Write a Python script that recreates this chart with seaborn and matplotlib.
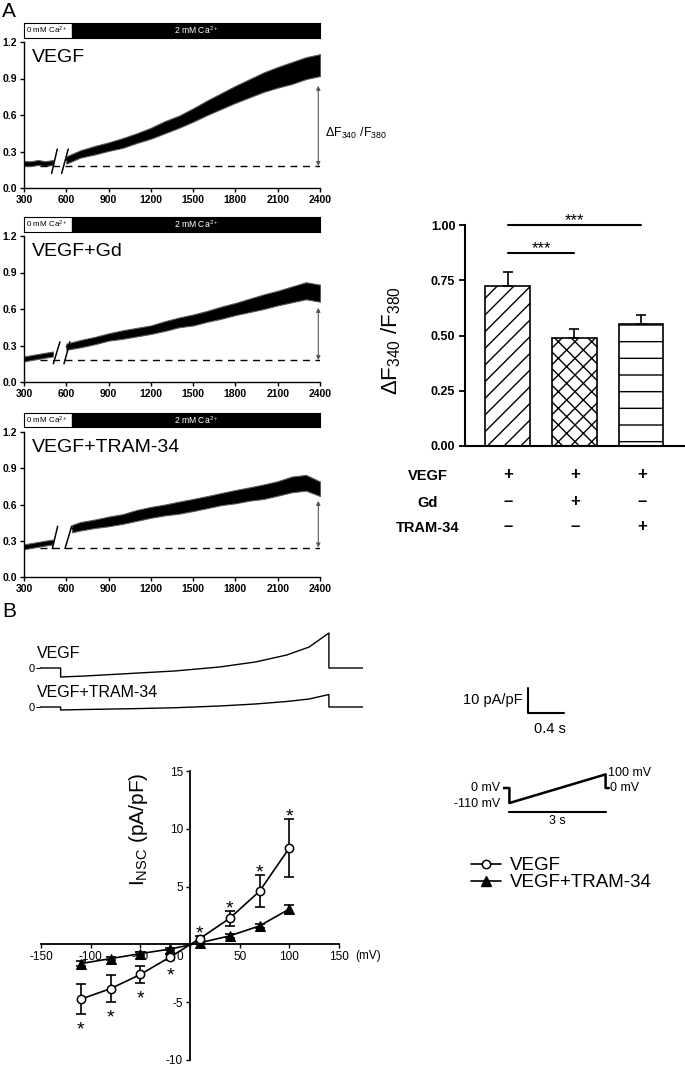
import numpy as np
import pandas as pd
import matplotlib
matplotlib.use("Agg")
import matplotlib.pyplot as plt
import seaborn as sns
from matplotlib.lines import Line2D
from matplotlib.transforms import ScaledTranslation

# ---------------------------------------------------------------- data
time_ticks = [300, 600, 900, 1200, 1500, 1800, 2100, 2400]
ratio_ticks = [0.0, 0.3, 0.6, 0.9, 1.2]
ca_switch_time = 640

pre_t = [300, 350, 400, 450, 505]
post_t = [600, 700, 800, 900, 1000, 1100, 1200, 1300, 1400, 1500,
          1600, 1700, 1800, 1900, 2000, 2100, 2200, 2300, 2400]
post_t_tram = [640, 700, 800, 900, 1000, 1100, 1200, 1300, 1400, 1500,
               1600, 1700, 1800, 1900, 2000, 2100, 2200, 2300, 2400]

vegf_pre = [0.20, 0.20, 0.21, 0.20, 0.21]
vegf_pre_hw = [0.02, 0.02, 0.02, 0.02, 0.02]
vegf_post = [0.23, 0.28, 0.31, 0.34, 0.37, 0.41, 0.45, 0.50, 0.545, 0.60,
             0.66, 0.715, 0.77, 0.82, 0.87, 0.91, 0.945, 0.985, 1.01]
vegf_post_hw = [0.03, 0.03, 0.035, 0.035, 0.04, 0.04, 0.045, 0.05, 0.05, 0.055,
                0.06, 0.065, 0.07, 0.075, 0.08, 0.085, 0.09, 0.09, 0.09]

gd_pre = [0.19, 0.20, 0.21, 0.22, 0.23]
gd_pre_hw = [0.02, 0.02, 0.02, 0.02, 0.02]
gd_post = [0.29, 0.315, 0.34, 0.37, 0.39, 0.41, 0.43, 0.46, 0.49, 0.51,
           0.54, 0.57, 0.60, 0.63, 0.66, 0.69, 0.72, 0.75, 0.73]
gd_post_hw = [0.025, 0.03, 0.03, 0.03, 0.035, 0.035, 0.035, 0.04, 0.04, 0.045,
              0.045, 0.05, 0.05, 0.055, 0.06, 0.06, 0.065, 0.07, 0.07]

tram_pre = [0.25, 0.26, 0.27, 0.28, 0.29]
tram_pre_hw = [0.02, 0.02, 0.02, 0.02, 0.02]
tram_post = [0.40, 0.42, 0.44, 0.46, 0.48, 0.51, 0.535, 0.555, 0.574, 0.596,
             0.62, 0.645, 0.665, 0.687, 0.706, 0.733, 0.766, 0.78, 0.73]
tram_post_hw = [0.03, 0.035, 0.035, 0.04, 0.04, 0.045, 0.045, 0.045, 0.05, 0.05,
                0.05, 0.05, 0.055, 0.055, 0.06, 0.06, 0.065, 0.065, 0.06]

baselines = [0.18, 0.18, 0.244]
delta_tops = [0.84, 0.61, 0.63]
break_x = [[(496, 536), (567, 614)], [(508, 555), (584, 626)], [(501, 539), (591, 638)]]
break_y = [(0.12, 0.32), (0.15, 0.33), (0.235, 0.42)]

# bar chart
conditions = ["VEGF", "VEGF+Gd", "VEGF+TRAM-34"]
bar_means = [0.724, 0.490, 0.550]
bar_sem = [0.065, 0.039, 0.043]
bar_hatches = ["//", "xx", "-"]
bar_ticks = [0.00, 0.25, 0.50, 0.75, 1.00]
row_labels = ["VEGF", "Gd", "TRAM-34"]
row_signs = [["+", "+", "+"], ["\u2013", "+", "\u2013"], ["\u2013", "\u2013", "+"]]

# current traces (B)
trace_time = [0.0, 0.23, 0.23, 0.5, 1.0, 1.5, 2.0, 2.4, 2.75, 3.0, 3.22, 3.22, 3.6]
vegf_current = [0.0, 0.0, -3.6, -3.2, -2.2, -1.2, 0.4, 2.4, 5.2, 8.4, 14.0, 0.0, 0.0]
tram_current = [0.0, 0.0, -1.2, -1.0, -0.7, -0.3, 0.4, 1.2, 2.2, 3.2, 5.0, 0.0, 0.0]

# voltage protocol
protocol_t = [-0.2, 0.0, 0.0, 3.0, 3.0, 3.1]
protocol_mv = [0, 0, -110, 100, 0, 0]

# I-V relation
volt = [-110, -80, -50, -20, 10, 40, 70, 100]
vegf_iv = [-4.74, -3.83, -2.6, -1.09, 0.51, 2.26, 4.6, 8.34]
vegf_iv_sem = [1.3, 1.15, 0.75, 0.3, 0.2, 0.65, 1.4, 2.47]
tram_iv = [-1.66, -1.23, -0.8, -0.4, 0.14, 0.74, 1.6, 3.06]
tram_iv_sem = [0.2, 0.15, 0.1, 0.1, 0.1, 0.15, 0.2, 0.35]
iv_xticks = [-150, -100, -50, 0, 50, 100, 150]
iv_yticks = [-10, -5, 5, 10, 15]

# ---------------------------------------------------------------- style
sns.set_theme(style="ticks", rc={
    "axes.edgecolor": "black", "xtick.color": "black", "ytick.color": "black",
    "text.color": "black", "axes.labelcolor": "black",
    "hatch.linewidth": 1.0, "hatch.color": "black",
})
plt.rcParams["font.family"] = ["Liberation Sans", "DejaVu Sans"]
plt.rcParams["mathtext.default"] = "regular"

W, H = 685, 1068
fig = plt.figure(figsize=(W / 100, H / 100), dpi=100)


def axes_px(l, t, r, b):
    return fig.add_axes([l / W, 1 - b / H, (r - l) / W, (b - t) / H])


def ftext(x, y, s, **kw):
    return fig.text(x / W, 1 - y / H, s, **kw)


# ---------------------------------------------------------------- panel A traces
panels = [
    ("VEGF", (42, 188), (23, 38), vegf_pre, vegf_pre_hw, post_t, vegf_post, vegf_post_hw),
    ("VEGF+Gd", (236, 382), (217, 232), gd_pre, gd_pre_hw, post_t, gd_post, gd_post_hw),
    ("VEGF+TRAM-34", (432, 577), (413, 427), tram_pre, tram_pre_hw, post_t_tram, tram_post, tram_post_hw),
]

for i, (lab, (t, b), (bt, bb), pre_y, pre_hw, pt, py, phw) in enumerate(panels):
    ax = axes_px(24, t, 320, b)
    for tt, yy, hw in ((pre_t, pre_y, pre_hw), (pt, py, phw)):
        yy = np.asarray(yy)
        hw = np.asarray(hw)
        ax.fill_between(tt, yy - hw, yy + hw, facecolor="black", edgecolor="0.35", lw=0.8)
        sns.lineplot(x=tt, y=yy, ax=ax, color="black", lw=1.0, estimator=None, sort=False)
    for bx in break_x[i]:
        ax.plot(bx, break_y[i], color="black", lw=1.1)
    ax.hlines(baselines[i], 410, 2400, colors="black", lw=1.0, linestyles=(0, (5, 4)))
    ax.annotate("", xy=(2388, delta_tops[i]), xytext=(2388, baselines[i]),
                arrowprops=dict(arrowstyle="<|-|>", color="0.35", lw=0.8,
                                mutation_scale=6, shrinkA=0, shrinkB=0))
    ax.set_xlim(300, 2400)
    ax.set_ylim(0, 1.2)
    ax.set_xticks(time_ticks)
    ax.set_yticks(ratio_ticks)
    ax.set_yticklabels([f"{v:.1f}" for v in ratio_ticks])
    ax.tick_params(direction="out", length=3, width=1, labelsize=7.5, pad=2)
    for tl in ax.get_xticklabels() + ax.get_yticklabels():
        tl.set_fontweight("bold")
    ax.set_xlabel("")
    ax.set_ylabel("")
    sns.despine(ax=ax)
    for s in ("left", "bottom"):
        ax.spines[s].set_linewidth(1.0)
    ax.text(0.027, 1 - 20 / (b - t), lab, transform=ax.transAxes, fontsize=14, va="baseline")

    # solution bar
    axc = axes_px(24, bt, 320, bb)
    axc.set_xlim(300, 2400)
    axc.set_ylim(0, 1)
    axc.axvspan(ca_switch_time, 2400, color="black")
    axc.set_xticks([])
    axc.set_yticks([])
    for s in axc.spines.values():
        s.set_linewidth(0.8)
    axc.text(315, 0.5, "0 mM Ca$^{2+}$", fontsize=5.8, va="center", ha="left")
    axc.text(1520, 0.5, "2 mM Ca$^{2+}$", fontsize=6.2, va="center", ha="center", color="white")

ftext(325, 133, r"$\Delta$F$_{340}$ /F$_{380}$", fontsize=9, va="center")

# ---------------------------------------------------------------- bar chart
axb = axes_px(465, 225, 685, 446)
bar_df = pd.DataFrame({"cond": conditions, "mean": bar_means})
sns.barplot(data=bar_df, x="cond", y="mean", ax=axb, color="white", edgecolor="black",
            linewidth=1.2, width=0.67, errorbar=None, saturation=1)
for patch, h in zip(axb.patches, bar_hatches):
    patch.set_hatch(h)
    patch.set_facecolor("white")
axb.errorbar(range(len(conditions)), bar_means, yerr=[np.zeros(len(bar_sem)), bar_sem],
             fmt="none", ecolor="black", elinewidth=1.2, capsize=3.5, capthick=1.2)
axb.set_xlim(-0.64, 2.66)
axb.set_ylim(0, 1.0)
axb.set_yticks(bar_ticks)
axb.set_yticklabels([f"{v:.2f}" for v in bar_ticks])
axb.set_xticks([])
axb.set_xlabel("")
axb.tick_params(axis="y", direction="out", length=4, width=1.3, labelsize=9, pad=3)
for tl in axb.get_yticklabels():
    tl.set_fontweight("bold")
sns.despine(ax=axb)
for s in ("left", "bottom"):
    axb.spines[s].set_linewidth(1.5)
axb.set_ylabel(r"$\Delta$F$_{340}$ /F$_{380}$", fontsize=16)
axb.yaxis.set_label_coords(-0.28, 0.475)
# significance
axb.plot([0, 2], [1.0, 1.0], color="black", lw=1.5, clip_on=False)
axb.plot([0, 1], [0.872, 0.872], color="black", lw=1.5, clip_on=False)
axb.text(1, 1.0, "***", ha="center", va="baseline", fontsize=12)
axb.text(0.5, 0.872, "***", ha="center", va="baseline", fontsize=12)
# table
row_y = [476, 503, 528]
for ry, rl, signs in zip(row_y, row_labels, row_signs):
    ftext(428, ry, rl, ha="center", va="center", fontsize=10.5, fontweight="bold")
    for k, sg in enumerate(signs):
        xpx = 508 + 67 * k
        ftext(xpx, ry - 1, sg, ha="center", va="center", fontsize=12, fontweight="bold")

# ---------------------------------------------------------------- panel B traces
axv = axes_px(40, 625, 363, 685)
sns.lineplot(x=trace_time, y=vegf_current, ax=axv, color="black", lw=1.0, estimator=None, sort=False)
axv.set_xlim(0, 3.6)
axv.set_ylim(-6.8, 17.2)

axt = axes_px(40, 688, 363, 720)
sns.lineplot(x=trace_time, y=tram_current, ax=axt, color="black", lw=1.0, estimator=None, sort=False)
axt.set_xlim(0, 3.6)
axt.set_ylim(-5.2, 7.6)

for a in (axv, axt):
    a.set_xticks([])
    a.set_yticks([0])
    a.set_yticklabels(["0"])
    a.tick_params(axis="y", length=3, width=0.8, labelsize=8, pad=1)
    a.set_xlabel("")
    a.set_ylabel("")
    for s in a.spines.values():
        s.set_visible(False)
    a.patch.set_alpha(0)

ftext(37, 658, "VEGF", fontsize=11.5, va="baseline")
ftext(37, 697, "VEGF+TRAM-34", fontsize=11.5, va="baseline")
ftext(2, 617, "B", fontsize=15, va="baseline")
ftext(2, 17, "A", fontsize=15, va="baseline")

# scale bar
axs = axes_px(528, 688, 564, 713)
axs.set_xlim(0, 0.4)
axs.set_ylim(0, 10)
axs.plot([0, 0, 0.4], [10, 0, 0], color="black", lw=1.5, clip_on=False)
axs.text(-0.055, 5.2, "10 pA/pF", ha="right", va="center", fontsize=10.5)
axs.text(0.24, -6.4, "0.4 s", ha="center", va="center", fontsize=10.5)
axs.axis("off")

# voltage protocol
axp = axes_px(503, 768, 612, 815)
sns.lineplot(x=protocol_t, y=protocol_mv, ax=axp, color="black", lw=1.8, estimator=None, sort=False)
axp.set_xlim(-0.2, 3.2)
axp.set_ylim(-198, 147)
axp.plot([0, 3], [-176, -176], color="black", lw=1.5, clip_on=False)
axp.text(1.5, -240, "3 s", ha="center", va="center", fontsize=9)
axp.text(-0.28, 0, "0 mV", ha="right", va="center", fontsize=9)
axp.text(-0.28, -118, "-110 mV", ha="right", va="center", fontsize=9)
axp.text(3.08, 110, "100 mV", ha="left", va="center", fontsize=9)
axp.text(3.14, 0, "0 mV", ha="left", va="center", fontsize=9)
axp.axis("off")

# ---------------------------------------------------------------- I-V plot
iv = axes_px(41, 771, 339, 1060)
iv.errorbar(volt, vegf_iv, yerr=vegf_iv_sem, fmt="none", ecolor="black", elinewidth=1.2,
            capsize=3.5, capthick=1.2, zorder=2)
iv.errorbar(volt, tram_iv, yerr=tram_iv_sem, fmt="none", ecolor="black", elinewidth=1.2,
            capsize=3.5, capthick=1.2, zorder=2)
sns.lineplot(x=volt, y=vegf_iv, ax=iv, color="black", lw=1.2, marker="o", markersize=6,
             markerfacecolor="white", markeredgecolor="black", markeredgewidth=1.1,
             estimator=None, sort=False, zorder=4)
sns.lineplot(x=volt, y=tram_iv, ax=iv, color="black", lw=1.2, marker="^", markersize=6.5,
             markerfacecolor="black", markeredgecolor="black",
             estimator=None, sort=False, zorder=3)
for x, m, e in zip(volt, vegf_iv, vegf_iv_sem):
    if m > 0:
        iv.annotate("*", xy=(x, m + e), xytext=(0, 1.6), textcoords="offset points",
                    ha="center", va="center", fontsize=14)
    else:
        iv.annotate("*", xy=(x, m - e), xytext=(0, -11.3), textcoords="offset points",
                    ha="center", va="center", fontsize=14)
iv.set_xlim(-150, 150)
iv.set_ylim(-10, 15)
iv.spines["left"].set_position(("data", 0))
iv.spines["bottom"].set_position(("data", 0))
iv.spines["top"].set_visible(False)
iv.spines["right"].set_visible(False)
for s in ("left", "bottom"):
    iv.spines[s].set_linewidth(1.3)
iv.set_xticks(iv_xticks)
iv.set_xticklabels([str(v) for v in iv_xticks])
iv.set_yticks(iv_yticks)
iv.set_yticklabels([str(v) for v in iv_yticks])
iv.tick_params(direction="out", length=3, width=1.0, labelsize=8.5, pad=2)
for tl in iv.get_xticklabels():
    if tl.get_text() == "0":
        tl.set_transform(tl.get_transform() + ScaledTranslation(-7 / 72, 0, fig.dpi_scale_trans))
iv.set_xlabel("")
iv.set_ylabel("I$_{NSC}$ (pA/pF)", fontsize=15)
iv.yaxis.set_label_coords(0.366, 0.80)
iv.text(166, -0.45, "(mV)", ha="left", va="top", fontsize=8.5)

handles = [
    Line2D([], [], color="black", lw=1.2, marker="o", markersize=6, markerfacecolor="white",
           markeredgecolor="black", markeredgewidth=1.1),
    Line2D([], [], color="black", lw=1.2, marker="^", markersize=6.5, markerfacecolor="black"),
]
fig.legend(handles, ["VEGF", "VEGF+TRAM-34"], loc="upper left",
           bbox_to_anchor=(471 / W, 1 - 857 / H), frameon=False, fontsize=13.5,
           handlelength=1.6, handletextpad=0.5, labelspacing=0.0, borderpad=0,
           borderaxespad=0)

fig.savefig("out.png", dpi=100)
